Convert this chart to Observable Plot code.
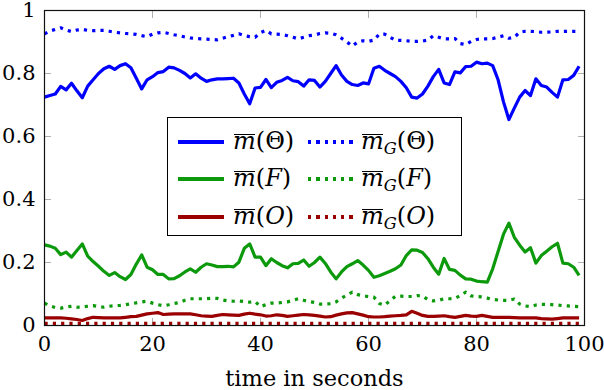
<!DOCTYPE html>
<html><head><meta charset="utf-8">
<script src="https://cdn.jsdelivr.net/npm/d3@7"></script>
<script src="https://cdn.jsdelivr.net/npm/@observablehq/plot@0.6"></script>
<style>
body{margin:0;background:#fff;}
#wrap{position:relative;width:604px;height:390px;font-family:"DejaVu Serif",serif;color:#000;}
#wrap svg{overflow:visible;}
#legend{position:absolute;left:167px;top:117px;width:293px;height:117px;border:1.3px solid #000;background:#fff;}
.sample{position:absolute;height:3.2px;width:46px;}
.lab{position:absolute;font-size:24px;line-height:30px;white-space:nowrap;font-family:"DejaVu Serif",serif;}
.ov{position:relative;font-style:italic;}
.ov::after{content:"";position:absolute;left:0.04em;right:0.02em;top:0.28em;border-top:1.2px solid #000;}
.it{font-style:italic;}
.sub{font-size:0.68em;font-style:italic;position:relative;top:0.3em;}
</style>
</head><body>
<div id="wrap"></div>
<script>
const time = d3.range(0, 100);
const xTicks = [0, 20, 40, 60, 80, 100];
const yTicks = [0, 0.2, 0.4, 0.6, 0.8, 1];
const xLabel = "time in seconds";

const mTheta = [.725,.73,.735,.759,.748,.769,.745,.723,.76,.78,.80,.815,.823,.813,.825,.831,.818,.785,.751,.78,
.79,.803,.806,.82,.818,.81,.80,.786,.799,.785,.775,.78,.783,.783,.784,.785,.77,.735,.704,.754,
.756,.781,.755,.772,.778,.788,.777,.774,.76,.78,.778,.757,.775,.80,.825,.795,.775,.765,.762,.77,
.767,.817,.823,.81,.80,.79,.775,.755,.725,.722,.735,.76,.79,.813,.77,.765,.805,.802,.822,.823,
.836,.831,.833,.825,.78,.71,.654,.69,.725,.746,.73,.783,.762,.757,.74,.725,.78,.781,.794,.823];

const mGTheta = [.926,.935,.94,.945,.938,.933,.938,.94,.937,.936,.937,.937,.934,.931,.929,.927,.926,.924,.92,.917,
.925,.929,.931,.927,.923,.92,.916,.913,.911,.91,.909,.908,.907,.912,.917,.921,.926,.92,.917,.915,
.93,.937,.926,.925,.924,.92,.915,.91,.915,.92,.922,.927,.929,.928,.923,.912,.9,.887,.9,.904,
.902,.906,.925,.925,.915,.905,.905,.904,.902,.902,.903,.906,.92,.915,.91,.91,.911,.895,.892,.902,
.908,.91,.91,.911,.915,.92,.912,.915,.931,.934,.934,.933,.931,.931,.932,.934,.934,.934,.934,.934];

const mF = [.256,.252,.245,.225,.233,.217,.238,.259,.22,.203,.188,.172,.159,.168,.155,.146,.162,.195,.224,.185,
.177,.162,.162,.148,.149,.158,.17,.18,.169,.185,.196,.192,.187,.187,.188,.186,.201,.245,.259,.217,
.217,.19,.212,.2,.19,.183,.196,.197,.208,.188,.2,.217,.197,.17,.148,.17,.187,.196,.206,.192,
.175,.153,.158,.165,.172,.18,.192,.222,.24,.239,.232,.212,.185,.163,.213,.178,.175,.16,.148,.147,
.141,.139,.138,.18,.235,.29,.325,.28,.255,.233,.247,.198,.222,.236,.25,.261,.198,.196,.185,.159];

const mGF = [.071,.062,.057,.055,.059,.061,.058,.059,.061,.063,.06,.058,.061,.063,.064,.066,.069,.072,.075,.077,
.071,.066,.063,.066,.07,.073,.08,.085,.085,.085,.085,.087,.086,.081,.078,.077,.078,.076,.074,.076,
.06,.066,.071,.071,.073,.075,.08,.085,.08,.076,.073,.068,.068,.069,.075,.087,.096,.106,.098,.094,
.092,.09,.07,.065,.079,.093,.093,.092,.092,.095,.094,.082,.078,.08,.085,.085,.086,.095,.106,.094,
.092,.091,.087,.083,.081,.08,.08,.084,.068,.062,.06,.065,.067,.067,.066,.065,.063,.062,.061,.06];

const mO = [.024,.024,.024,.024,.023,.021,.019,.016,.022,.026,.025,.024,.024,.024,.024,.026,.028,.029,.033,.037,
.039,.041,.035,.036,.037,.037,.037,.037,.034,.031,.03,.029,.032,.035,.034,.033,.032,.036,.039,.036,
.034,.03,.031,.034,.032,.029,.031,.033,.035,.034,.032,.03,.027,.028,.033,.037,.04,.041,.037,.033,
.028,.027,.027,.028,.03,.031,.032,.034,.045,.039,.032,.029,.029,.03,.031,.028,.026,.029,.032,.03,
.029,.032,.029,.026,.026,.026,.026,.025,.024,.024,.024,.024,.022,.021,.02,.022,.024,.024,.024,.024];

const mGO = [.007,.007,.007,.007,.007,.007,.007,.007,.007,.007,.007,.007,.007,.007,.007,.007,.007,.007,.007,.007,
.007,.007,.007,.007,.007,.007,.007,.007,.007,.007,.007,.007,.007,.007,.007,.007,.007,.007,.007,.007,
.007,.007,.007,.007,.007,.007,.007,.007,.007,.007,.007,.007,.007,.007,.007,.007,.007,.007,.007,.007,
.007,.007,.007,.007,.007,.007,.007,.007,.007,.007,.007,.007,.007,.007,.007,.007,.007,.007,.007,.007,
.007,.007,.007,.007,.007,.007,.007,.007,.007,.007,.007,.007,.007,.007,.007,.007,.007,.007,.007,.007];

const blue = "#0000ff", green = "#0c9a0c", red = "#9b0000";
const series = [
  {values: mTheta, color: blue, dotted: false, arg: "Θ", argItalic: false},
  {values: mGTheta, color: blue, dotted: true, arg: "Θ", argItalic: false},
  {values: mF, color: green, dotted: false, arg: "F", argItalic: true},
  {values: mGF, color: green, dotted: true, arg: "F", argItalic: true},
  {values: mO, color: red, dotted: false, arg: "O", argItalic: true},
  {values: mGO, color: red, dotted: true, arg: "O", argItalic: true}
];

const lineMarks = series.map(s => Plot.line(time.map((t, i) => ({t, v: s.values[i]})), {
  x: "t", y: "v", stroke: s.color, strokeWidth: 3.2,
  strokeDasharray: s.dotted ? "3.2 5.1" : null,
  strokeLinejoin: "round", strokeLinecap: "butt"
}));

const fontStack = "DejaVu Serif";
const tickColor = "#b0b0b0";
const chart = Plot.plot({
  width: 604, height: 390,
  marginLeft: 44, marginRight: 20, marginTop: 10, marginBottom: 65,
  x: {domain: [0, 100]},
  y: {domain: [0, 1]},
  style: {fontFamily: fontStack, fontSize: "21px", color: "#000", background: "#fff", overflow: "visible"},
  marks: [
    Plot.axisX({ticks: xTicks, tickSize: 7, dy: -7, text: null, stroke: tickColor, label: null}),
    Plot.axisX({anchor: "top", ticks: xTicks, tickSize: 7, dy: 7, text: null, stroke: tickColor, label: null}),
    Plot.axisY({ticks: yTicks, tickSize: 7, dx: 7, text: null, stroke: tickColor, label: null}),
    Plot.axisY({anchor: "right", ticks: yTicks, tickSize: 7, dx: -7, text: null, stroke: tickColor, label: null}),
    Plot.axisX({ticks: xTicks, tickSize: 0, tickPadding: 11, tickFormat: d => String(d), label: null, fontFamily: fontStack, fontSize: 21}),
    Plot.axisY({ticks: yTicks, tickSize: 0, tickPadding: 9, tickFormat: d => String(d), label: null, fontFamily: fontStack, fontSize: 21}),
    ...lineMarks,
    Plot.frame({stroke: "#111", strokeWidth: 1.2}),
    Plot.text([xLabel], {frameAnchor: "bottom", dy: 60, lineAnchor: "bottom", fontSize: 22.5, fontFamily: fontStack})
  ]
});
const wrap = document.getElementById("wrap");
wrap.appendChild(chart);

// legend (inside the plot, upper-middle)
const legend = document.createElement("div");
legend.id = "legend";
wrap.appendChild(legend);
const rowTops = [24, 61, 99];
series.forEach((s, k) => {
  const row = Math.floor(k / 2), col = k % 2;
  const sm = document.createElement("div");
  sm.className = "sample";
  sm.style.left = (col ? 140 : 10) + "px";
  sm.style.top = (rowTops[row] - 1.6) + "px";
  sm.style.background = s.dotted
    ? `repeating-linear-gradient(to right, ${s.color} 0 3.2px, transparent 3.2px 8.3px)`
    : s.color;
  legend.appendChild(sm);
  const lab = document.createElement("div");
  lab.className = "lab";
  lab.style.left = (col ? 193 : 65) + "px";
  lab.style.top = (rowTops[row] - 16) + "px";
  const arg = s.argItalic ? `<span class="it">${s.arg}</span>` : s.arg;
  lab.innerHTML = `<span class="ov">m</span>${col ? '<span class="sub">G</span>' : ''}(${arg})`;
  legend.appendChild(lab);
});
</script>
</body></html>
